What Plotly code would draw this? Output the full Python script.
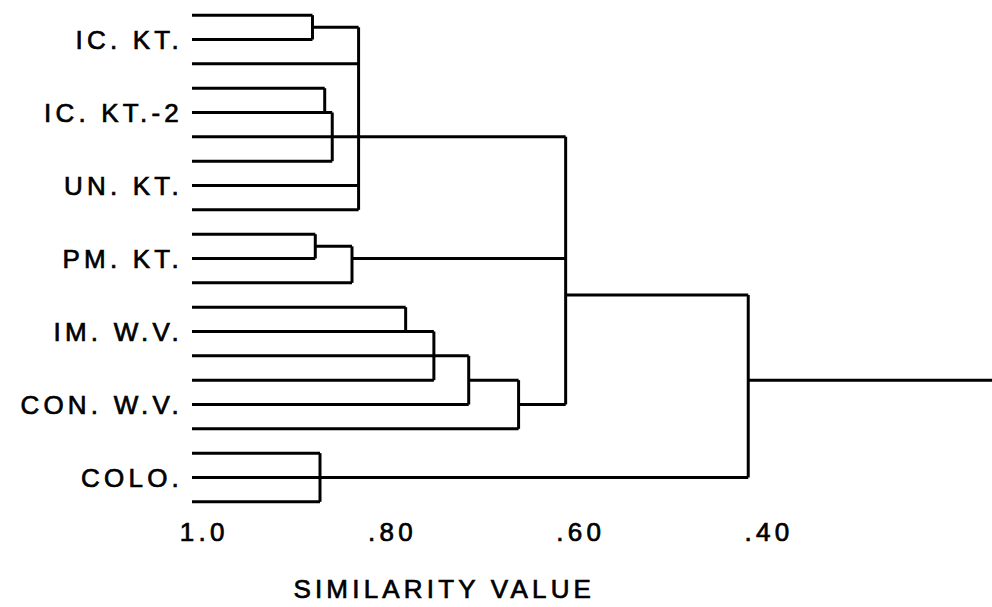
import plotly.graph_objects as go

# ---------------- data ----------------
# labels shown on the left and the leaf (row) index they sit on
leaf_labels = ["IC. KT.", "IC. KT.-2", "UN. KT.", "PM. KT.", "IM. W.V.", "CON. W.V.", "COLO."]
label_leaf = [1, 4, 7, 10, 13, 16, 19]

# similarity value at which each of the 21 leaf lines joins the tree
leaf_join = [0.885, 0.885, 0.836, 0.872, 0.864, 0.616, 0.864, 0.836, 0.836,
             0.882, 0.882, 0.843,
             0.786, 0.756, 0.719, 0.756, 0.719, 0.666,
             0.877, 0.422, 0.877]

# vertical bracket of every cluster: similarity, first row, last row
bracket_sim = [0.885, 0.872, 0.864, 0.836, 0.882, 0.843,
               0.786, 0.756, 0.719, 0.666, 0.616, 0.877, 0.422]
bracket_from = [0, 3, 4, 0.5, 9, 9.5, 12, 13, 14, 15, 5, 18, 11.5]
bracket_to = [1, 4, 6, 8, 10, 11, 13, 15, 16, 17, 16, 20, 19]

# connectors from a cluster to its parent: row, child similarity, parent similarity
link_row = [0.5, 9.5, 10, 15, 16, 11.5, 15]
link_from = [0.885, 0.882, 0.843, 0.719, 0.666, 0.616, 0.422]
link_to = [0.836, 0.843, 0.616, 0.666, 0.616, 0.422, 0.15]

x_ticks = [1.0, 0.8, 0.6, 0.4]
x_tick_text = ["1.0", ".80", ".60", ".40"]
x_title = "SIMILARITY VALUE"

# ---------------- figure ----------------
X_LEFT, X_RIGHT = 1.013, 0.163

xs, ys = [], []
for row, s in enumerate(leaf_join):
    xs += [X_LEFT, s, None]
    ys += [row, row, None]
for s, a, b in zip(bracket_sim, bracket_from, bracket_to):
    xs += [s, s, None]
    ys += [a, b, None]
for r, a, b in zip(link_row, link_from, link_to):
    xs += [a, b, None]
    ys += [r, r, None]

FONT = "Liberation Sans, Arial, Helvetica, sans-serif"

fig = go.Figure(go.Scatter(x=xs, y=ys, mode="lines",
                           line=dict(color="black", width=3),
                           hoverinfo="skip"))

fig.update_layout(
    width=992, height=607,
    margin=dict(l=192, r=0, t=3, b=93),
    plot_bgcolor="white", paper_bgcolor="white",
    showlegend=False,
    font=dict(family=FONT, size=26, color="black"),
)
fig.update_xaxes(range=[X_LEFT, X_RIGHT], tickvals=x_ticks, ticktext=x_tick_text,
                 showgrid=False, zeroline=False, showline=False, ticks="",
                 ticklabelstandoff=0,
                 tickfont=dict(family=FONT, size=26, color="black"))
fig.update_yaxes(range=[20.5, -0.5], tickvals=label_leaf, ticktext=leaf_labels,
                 showgrid=False, zeroline=False, showline=False, ticks="",
                 ticklabelstandoff=8,
                 tickfont=dict(family=FONT, size=26, color="black"))
fig.add_annotation(text=x_title, xref="paper", yref="paper", x=0.315, y=0,
                   xanchor="center", yanchor="middle", yshift=-75, showarrow=False,
                   font=dict(family=FONT, size=26, color="black"))

post = """
var gd = document.getElementById('{plot_id}');
function ls(){
  gd.querySelectorAll('.xtick text, .ytick text, .annotation-text').forEach(function(t){
    t.setAttribute('letter-spacing', '4.2px');
    t.style.stroke = 'black';
    t.style.strokeWidth = '0.7px';
  });
}
ls();
if (gd.on) { gd.on('plotly_afterplot', ls); }
setTimeout(ls, 50);
"""

fig.write_html("out.html", post_script=post)
